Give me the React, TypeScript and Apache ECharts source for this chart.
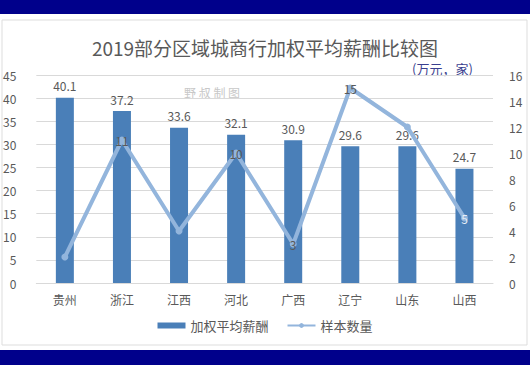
import React, { useEffect, useRef } from "react";
import * as echarts from "echarts";

const categories = ["贵州", "浙江", "江西", "河北", "广西", "辽宁", "山东", "山西"];
const salary = [40.1, 37.2, 33.6, 32.1, 30.9, 29.6, 29.6, 24.7];
const samples = [2, 11, 4, 10, 3, 15, 12, 5];
const shownSampleLabels = [false, true, false, true, true, true, false, true];

export default function App() {
  const ref = useRef<HTMLDivElement>(null);
  useEffect(() => {
    const chart = echarts.init(ref.current!, null, { renderer: "svg" });
    const font = "'Microsoft YaHei', 'Noto Sans CJK SC', sans-serif";
    chart.setOption({
      animation: false,
      backgroundColor: "#ffffff",
      textStyle: { fontFamily: font },
      title: {
        text: "2019部分区域城商行加权平均薪酬比较图",
        left: "center",
        top: 33,
        textStyle: { fontSize: 19, fontWeight: "normal", color: "#595959", fontFamily: font },
      },
      graphic: [
        { type: "rect", shape: { x: 0, y: 0, width: 530, height: 14 }, style: { fill: "#00008b" }, z: 0 },
        { type: "rect", shape: { x: 0, y: 350, width: 530, height: 15 }, style: { fill: "#00008b" }, z: 0 },
        { type: "rect", shape: { x: 2, y: 20, width: 525, height: 325 }, style: { fill: "none", stroke: "#dddddd", lineWidth: 1 }, z: 0 },
        { type: "text", left: 412, top: 62, style: { text: "(万元，家)", fill: "#3a3f8f", font: `13px ${font}` } },
        { type: "text", left: 184, top: 86, style: { text: "野 叔 制 图", fill: "#c8c8c8", font: `12px ${font}` } },
      ],
      legend: {
        bottom: 28,
        left: "center",
        itemGap: 18,
        textStyle: { color: "#595959", fontSize: 13 },
        data: [
          { name: "加权平均薪酬", icon: "rect", itemStyle: { color: "#4a7fb8" } },
          { name: "样本数量" },
        ],
        itemWidth: 28,
        itemHeight: 6,
      },
      grid: { left: 33, right: 37, top: 75, bottom: 82 },
      xAxis: {
        type: "category",
        data: categories,
        axisLine: { show: true, lineStyle: { color: "#d9d9d9" } },
        axisTick: { show: false },
        axisLabel: { color: "#595959", fontSize: 12, margin: 10 },
      },
      yAxis: [
        {
          type: "value",
          min: 0,
          max: 45,
          interval: 5,
          axisLine: { show: false },
          axisTick: { show: false },
          axisLabel: { color: "#595959", fontSize: 12, margin: 20 },
          splitLine: { lineStyle: { color: "#d9d9d9" } },
        },
        {
          type: "value",
          min: 0,
          max: 16,
          interval: 2,
          axisLine: { show: false },
          axisTick: { show: false },
          axisLabel: { color: "#595959", fontSize: 12, margin: 16 },
          splitLine: { show: false },
        },
      ],
      series: [
        {
          name: "加权平均薪酬",
          type: "bar",
          data: salary,
          barWidth: 18,
          itemStyle: { color: "#4a7fb8" },
          label: { show: true, position: "top", color: "#595959", fontSize: 12, distance: 6 },
        },
        {
          name: "样本数量",
          type: "line",
          yAxisIndex: 1,
          data: samples.map((v, i) => ({
            value: v,
            label: { show: shownSampleLabels[i], color: i === 7 ? "#e8eef7" : "#595959" },
          })),
          symbol: "circle",
          symbolSize: 7,
          lineStyle: { color: "#93b5dc", width: 4 },
          itemStyle: { color: "#93b5dc" },
          label: { position: "inside", fontSize: 12 },
          z: 3,
        },
      ],
    });
    return () => chart.dispose();
  }, []);
  return (
    <div style={{ position: "absolute", left: 0, top: 0, width: 530, height: 365 }}>
      <div ref={ref} style={{ width: 530, height: 365 }} />
    </div>
  );
}
